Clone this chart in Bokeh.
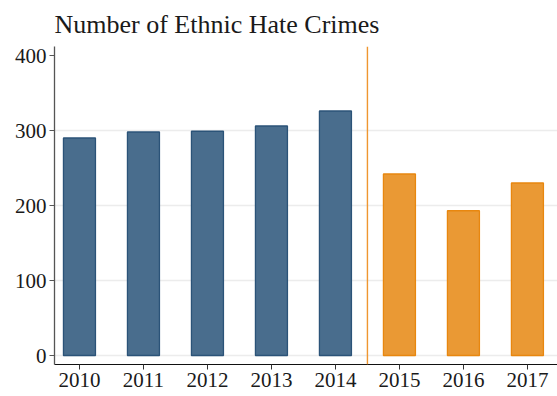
from bokeh.plotting import figure
from bokeh.models import Range1d, FixedTicker, Span, ColumnDataSource
from bokeh.embed import file_html
from bokeh.resources import INLINE

years = [2010, 2011, 2012, 2013, 2014, 2015, 2016, 2017]
crimes = [290, 298, 299, 306, 326, 242, 193, 230]
period = ["before", "before", "before", "before", "before", "after", "after", "after"]
y_ticks = [0, 100, 200, 300, 400]
split_year = 2014.5

fill_map = {"before": "#496d8d", "after": "#ea9934"}
line_map = {"before": "#2b5378", "after": "#e8870f"}

src = ColumnDataSource(dict(
    x=years, top=crimes,
    fill=[fill_map[p] for p in period],
    line=[line_map[p] for p in period],
))

FONT = "Liberation Serif"

p = figure(width=557, height=396, output_backend="svg", toolbar_location=None,
           x_range=Range1d(2009.61, 2017.47), y_range=Range1d(-12, 412),
           min_border_left=54, min_border_right=0, min_border_bottom=32, min_border_top=46)

p.title.text = "Number of Ethnic Hate Crimes"
p.title.text_font = FONT
p.title.text_font_size = "26px"
p.title.text_font_style = "normal"
p.title.text_color = "#1a1a1a"
p.title.offset = 0
p.title.standoff = 15

p.vbar(x="x", top="top", bottom=0, width=0.5, source=src,
       fill_color="fill", line_color="line", line_width=1.3)

p.add_layout(Span(location=split_year, dimension="height", line_color="#ef9630", line_width=1.4))

p.outline_line_color = None
p.xgrid.visible = False
p.ygrid.ticker = FixedTicker(ticks=y_ticks[:-1])
p.ygrid.grid_line_color = "#ececec"
p.ygrid.grid_line_width = 1.5

p.xaxis.ticker = FixedTicker(ticks=years)
p.yaxis.ticker = FixedTicker(ticks=y_ticks)
for ax in (p.xaxis, p.yaxis):
    ax.major_label_text_font = FONT
    ax.major_label_text_font_size = "21px"
    ax.major_label_text_color = "#1a1a1a"
    ax.minor_tick_line_color = None
    ax.major_tick_in = 0
    ax.major_tick_out = 5
    ax.major_label_standoff = 3
p.xaxis.axis_line_color = "#111111"
p.xaxis.major_tick_line_color = "#333333"
p.yaxis.axis_line_color = "#555555"
p.yaxis.major_tick_line_color = "#555555"
p.yaxis.axis_line_width = 1.3

open("out.html", "w").write(file_html(p, INLINE))
